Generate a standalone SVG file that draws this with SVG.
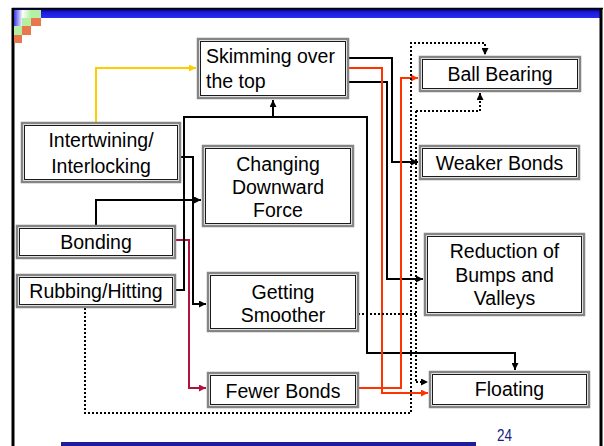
<svg xmlns="http://www.w3.org/2000/svg" width="604" height="446" viewBox="0 0 604 446">
<style>
.bo{fill:#fff;stroke:#858585;stroke-width:2.5}
.bi{fill:none;stroke:#1a1a1a;stroke-width:1}
.t{font-family:"Liberation Sans",Arial,sans-serif;font-size:19.5px;fill:#000;text-anchor:middle}
.ts{text-anchor:start}
.k{fill:none;stroke:#000;stroke-width:2}
.r{fill:none;stroke:#ff3300;stroke-width:2}
.c{fill:none;stroke:#b0143c;stroke-width:2}
.y{fill:none;stroke:#ffcc00;stroke-width:2}
.d{fill:none;stroke:#000;stroke-width:2;stroke-dasharray:2 2}
</style>
<defs>
<linearGradient id="bar" x1="0" y1="0" x2="0" y2="1">
<stop offset="0" stop-color="#000060"/>
<stop offset="0.35" stop-color="#1a1ad8"/>
<stop offset="1" stop-color="#2c2cf4"/>
</linearGradient>
<linearGradient id="sq" x1="0" y1="0" x2="1" y2="0">
<stop offset="0" stop-color="#3a3ae8"/>
<stop offset="1" stop-color="#f0f0ff"/>
</linearGradient>
<linearGradient id="sq2" x1="0" y1="0" x2="1" y2="0">
<stop offset="0" stop-color="#ffffff"/>
<stop offset="1" stop-color="#b4f0a4"/>
</linearGradient>
<marker id="ak" viewBox="0 0 8 8" refX="8" refY="4" markerWidth="7" markerHeight="7" markerUnits="userSpaceOnUse" orient="auto"><path d="M0,0L8,4L0,8z" fill="#000"/></marker>
<marker id="ar" viewBox="0 0 8 8" refX="8" refY="4" markerWidth="7" markerHeight="7" markerUnits="userSpaceOnUse" orient="auto"><path d="M0,0L8,4L0,8z" fill="#ff3300"/></marker>
<marker id="ac" viewBox="0 0 8 8" refX="8" refY="4" markerWidth="7" markerHeight="7" markerUnits="userSpaceOnUse" orient="auto"><path d="M0,0L8,4L0,8z" fill="#b0143c"/></marker>
<marker id="ay" viewBox="0 0 8 8" refX="8" refY="4" markerWidth="7" markerHeight="7" markerUnits="userSpaceOnUse" orient="auto"><path d="M0,0L8,4L0,8z" fill="#ffcc00"/></marker>
</defs>
<rect width="604" height="446" fill="#fff"/>
<g id="frame">
<rect x="14" y="9" width="586" height="9" fill="url(#bar)"/>
<line x1="13" y1="8" x2="13" y2="446" stroke="#000" stroke-width="3"/>
<line x1="601" y1="8" x2="601" y2="446" stroke="#000" stroke-width="3"/>
<line x1="12" y1="8.5" x2="603" y2="8.5" stroke="#000" stroke-width="1.5"/>
<rect x="14" y="10" width="8" height="8" fill="url(#sq)"/>
<rect x="22" y="10" width="9" height="8" fill="url(#sq2)"/>
<rect x="31" y="10" width="10" height="8" fill="#b4f0a4"/>
<rect x="14" y="18" width="8" height="8" fill="url(#sq)"/>
<rect x="22" y="18" width="9" height="8" fill="#b4f0a4"/>
<rect x="31" y="18" width="10" height="8" fill="#e8784c"/>
<rect x="14" y="26" width="8" height="9" fill="#b4f0a4"/>
<rect x="22" y="26" width="9" height="9" fill="#e8784c"/>
<rect x="14" y="35" width="8" height="8" fill="#e8784c"/>
<rect x="61" y="442" width="415" height="4" fill="#1c1c9c"/>
<text x="504.5" y="441" font-family="'Liberation Sans',Arial,sans-serif" font-size="17" fill="#1a1a80" text-anchor="middle" textLength="15" lengthAdjust="spacingAndGlyphs">24</text>
</g>
<g id="connectors">
<path class="y" d="M96,123V68H196" marker-end="url(#ay)"/>
<path class="k" d="M180,157H193V304H206" marker-end="url(#ak)"/>
<path class="k" d="M96,226V200H201" marker-end="url(#ak)"/>
<path class="c" d="M175,240H189V388H206" marker-end="url(#ac)"/>
<path class="k" d="M175,290H184V117H367V353H515V370" marker-end="url(#ak)"/>
<path class="k" d="M273,117V100" marker-end="url(#ak)"/>
<path class="k" d="M348,58H392V162H418" marker-end="url(#ak)"/>
<path class="k" d="M348,82H387V279H423" marker-end="url(#ak)"/>
<path class="r" d="M348,68H382V393H428" marker-end="url(#ar)"/>
<path class="r" d="M358,388H401V78H418" marker-end="url(#ar)"/>
<path class="d" d="M85,308V413H411V43H485V55" marker-end="url(#ak)"/>
<path class="d" d="M358,314H416"/>
<path class="d" d="M416,111V382"/>
<path class="d" d="M416,111H480V93" marker-end="url(#ak)"/>
<path class="d" d="M416,382H428" marker-end="url(#ak)"/>
</g>
<g id="skimming"><rect class="bo" x="198" y="39" width="150" height="59"/><rect class="bi" x="200.5" y="41.5" width="145" height="54"/>
<text class="t ts" x="206" y="63">Skimming over</text><text class="t ts" x="206" y="88">the top</text></g>
<g id="ballbearing"><rect class="bo" x="420" y="57" width="160" height="34"/><rect class="bi" x="422.5" y="59.5" width="155" height="29"/>
<text class="t" x="500" y="81">Ball Bearing</text></g>
<g id="intertwining"><rect class="bo" x="22" y="123" width="158" height="59"/><rect class="bi" x="24.5" y="125.5" width="153" height="54"/>
<text class="t" x="101" y="147">Intertwining/</text><text class="t" x="101" y="173">Interlocking</text></g>
<g id="weakerbonds"><rect class="bo" x="420" y="146" width="159" height="33"/><rect class="bi" x="422.5" y="148.5" width="154" height="28"/>
<text class="t" x="499.5" y="170">Weaker Bonds</text></g>
<g id="changing"><rect class="bo" x="203" y="146" width="150" height="80"/><rect class="bi" x="205.5" y="148.5" width="145" height="75"/>
<text class="t" x="278" y="171">Changing</text><text class="t" x="278" y="194">Downward</text><text class="t" x="278" y="217">Force</text></g>
<g id="bonding"><rect class="bo" x="17" y="226" width="158" height="32"/><rect class="bi" x="19.5" y="228.5" width="153" height="27"/>
<text class="t" x="96" y="249">Bonding</text></g>
<g id="reduction"><rect class="bo" x="425" y="234" width="159" height="81"/><rect class="bi" x="427.5" y="236.5" width="154" height="76"/>
<text class="t" x="504.5" y="258">Reduction of</text><text class="t" x="504.5" y="282">Bumps and</text><text class="t" x="504.5" y="305">Valleys</text></g>
<g id="rubbing"><rect class="bo" x="17" y="275" width="158" height="32"/><rect class="bi" x="19.5" y="277.5" width="153" height="27"/>
<text class="t" x="96" y="298">Rubbing/Hitting</text></g>
<g id="smoother"><rect class="bo" x="208" y="273" width="150" height="58"/><rect class="bi" x="210.5" y="275.5" width="145" height="53"/>
<text class="t" x="283" y="299">Getting</text><text class="t" x="283" y="322">Smoother</text></g>
<g id="fewerbonds"><rect class="bo" x="208" y="373" width="150" height="34"/><rect class="bi" x="210.5" y="375.5" width="145" height="29"/>
<text class="t" x="283" y="398">Fewer Bonds</text></g>
<g id="floating"><rect class="bo" x="430" y="372" width="159" height="35"/><rect class="bi" x="432.5" y="374.5" width="154" height="30"/>
<text class="t" x="509.5" y="396">Floating</text></g>
</svg>
